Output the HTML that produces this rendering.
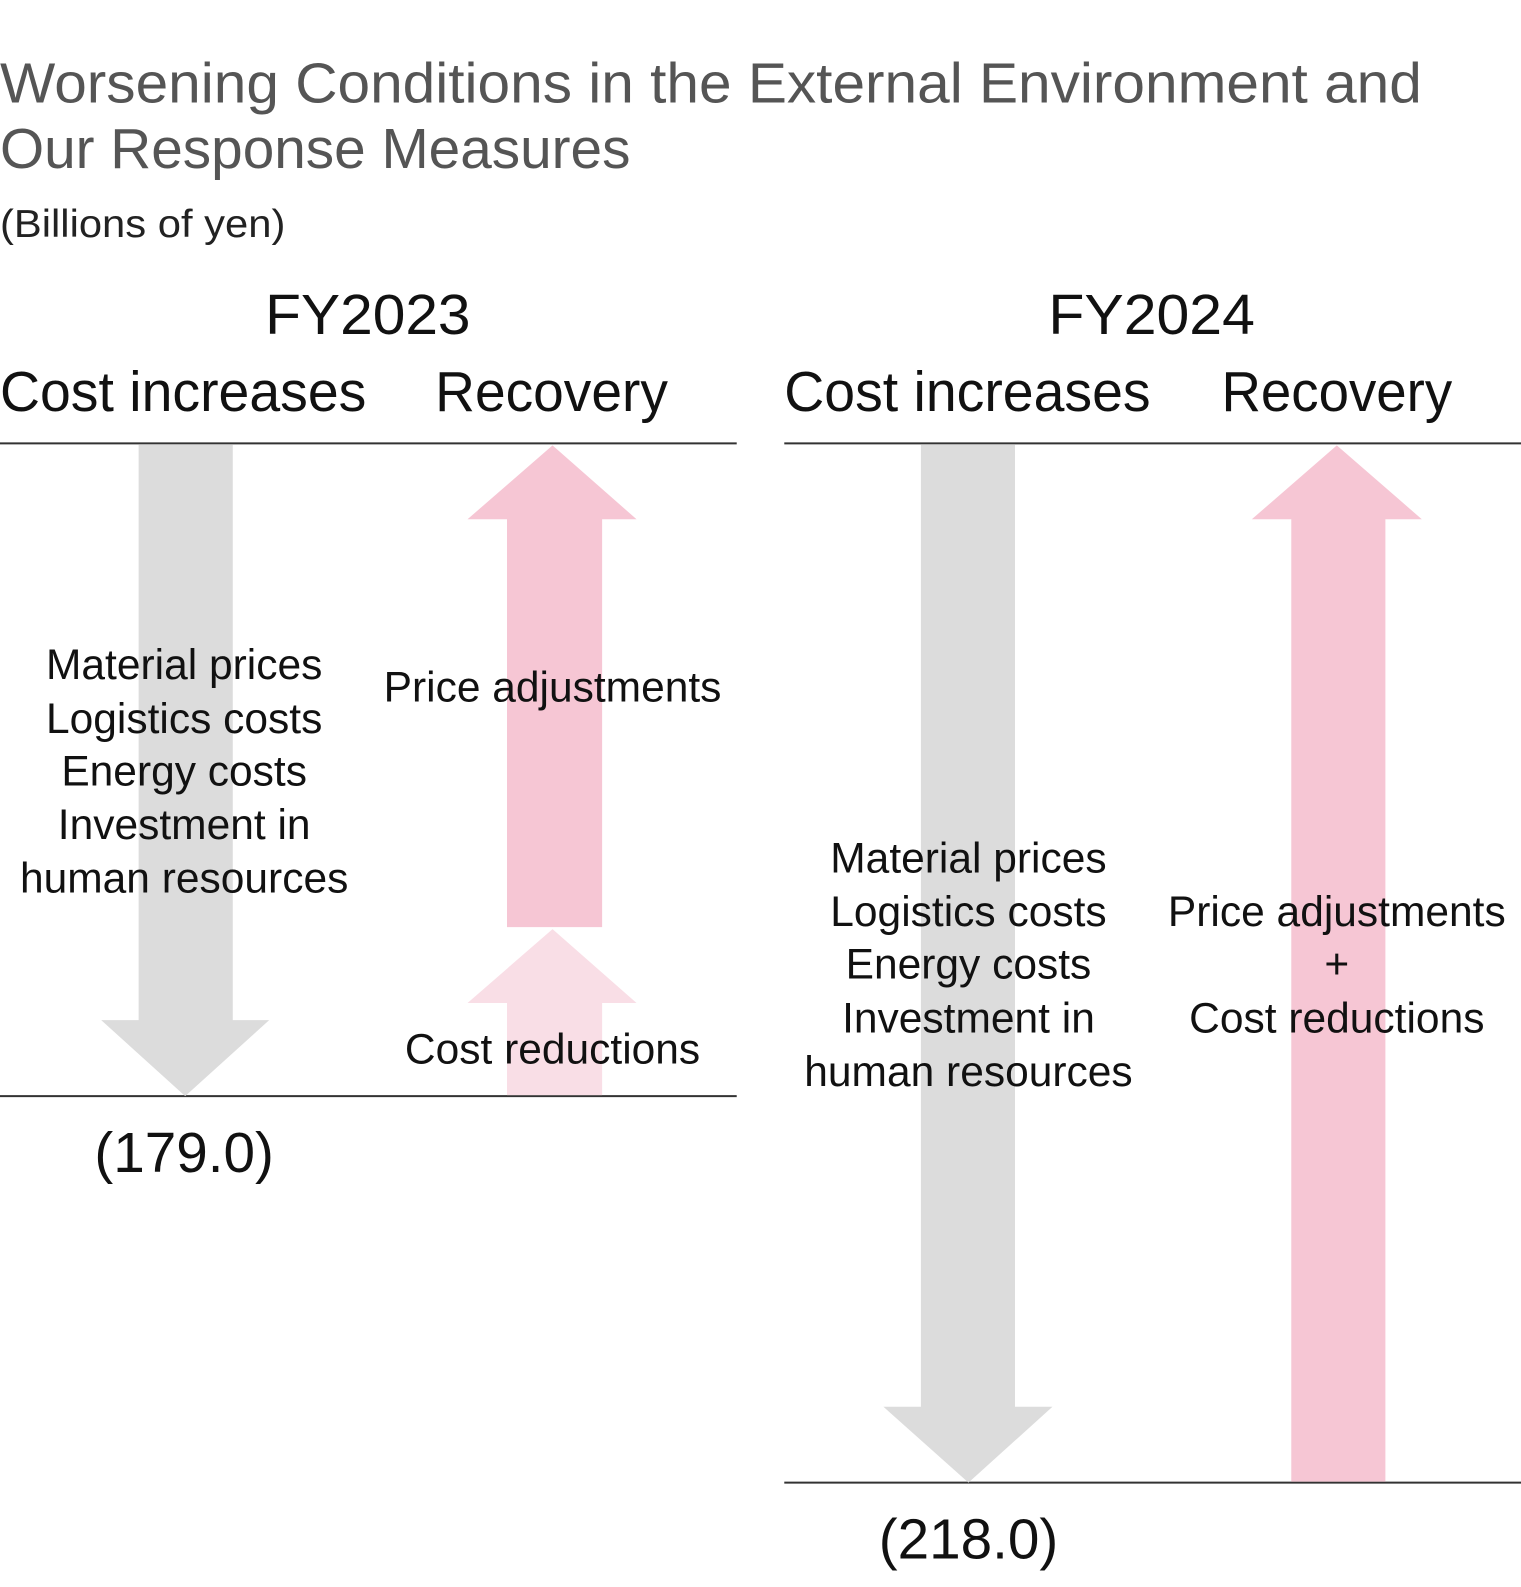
<!DOCTYPE html>
<html><head><meta charset="utf-8"><style>
html,body{margin:0;padding:0;background:#fff;}
svg{display:block;}
text{font-family:"Liberation Sans",sans-serif;}
</style></head><body>
<svg width="1521" height="1587" viewBox="0 0 1503 1568" xmlns="http://www.w3.org/2000/svg">
<g fill="#555">
<text x="0" y="101" font-size="56" textLength="1405" lengthAdjust="spacingAndGlyphs">Worsening Conditions in the External Environment and</text>
<text x="0" y="166" font-size="56" textLength="623" lengthAdjust="spacingAndGlyphs">Our Response Measures</text>
</g>
<text x="0" y="234" font-size="38" fill="#222" textLength="282" lengthAdjust="spacingAndGlyphs">(Billions of yen)</text>
<g fill="#111" font-size="56">
<text x="262" y="330" textLength="203" lengthAdjust="spacingAndGlyphs">FY2023</text>
<text x="0" y="406" textLength="362" lengthAdjust="spacingAndGlyphs">Cost increases</text>
<text x="430" y="406" textLength="230" lengthAdjust="spacingAndGlyphs">Recovery</text>
<text x="1036" y="330" textLength="204" lengthAdjust="spacingAndGlyphs">FY2024</text>
<text x="775" y="406" textLength="362" lengthAdjust="spacingAndGlyphs">Cost increases</text>
<text x="1207" y="406" textLength="228" lengthAdjust="spacingAndGlyphs">Recovery</text>
</g>
<g stroke="#333" stroke-width="2">
<line x1="0" y1="438" x2="728" y2="438"/>
<line x1="775" y1="438" x2="1503" y2="438"/>
<line x1="0" y1="1083" x2="728" y2="1083"/>
<line x1="775" y1="1465" x2="1503" y2="1465"/>
</g>
<polygon fill="#dcdcdc" points="137,439 230,439 230,1008 266,1008 183,1083 100,1008 137,1008"/>
<polygon fill="#f6c6d4" points="546,440 629,513 595,513 595,916 501,916 501,513 462,513"/>
<polygon fill="#f9dee6" points="546,918 629,991 595,991 595,1082 501,1082 501,991 462,991"/>
<polygon fill="#dcdcdc" points="910,439 1003,439 1003,1390 1040,1390 957,1465 873,1390 910,1390"/>
<polygon fill="#f6c6d4" points="1321,440 1405,513 1369,513 1369,1464 1276,1464 1276,513 1237,513"/>
<g fill="#111" font-size="42" text-anchor="middle">
<text x="182" y="671">Material prices</text>
<text x="182" y="724">Logistics costs</text>
<text x="182" y="776">Energy costs</text>
<text x="182" y="829">Investment in</text>
<text x="182" y="882">human resources</text>
<text x="546" y="693">Price adjustments</text>
<text x="546" y="1051">Cost reductions</text>
<text x="957" y="862">Material prices</text>
<text x="957" y="915">Logistics costs</text>
<text x="957" y="967">Energy costs</text>
<text x="957" y="1020">Investment in</text>
<text x="957" y="1073">human resources</text>
<text x="1321" y="915">Price adjustments</text>
<text x="1321" y="967">+</text>
<text x="1321" y="1020">Cost reductions</text>
</g>
<g fill="#111" font-size="56" text-anchor="middle">
<text x="182" y="1158">(179.0)</text>
<text x="957" y="1540">(218.0)</text>
</g>
</svg>
</body></html>
